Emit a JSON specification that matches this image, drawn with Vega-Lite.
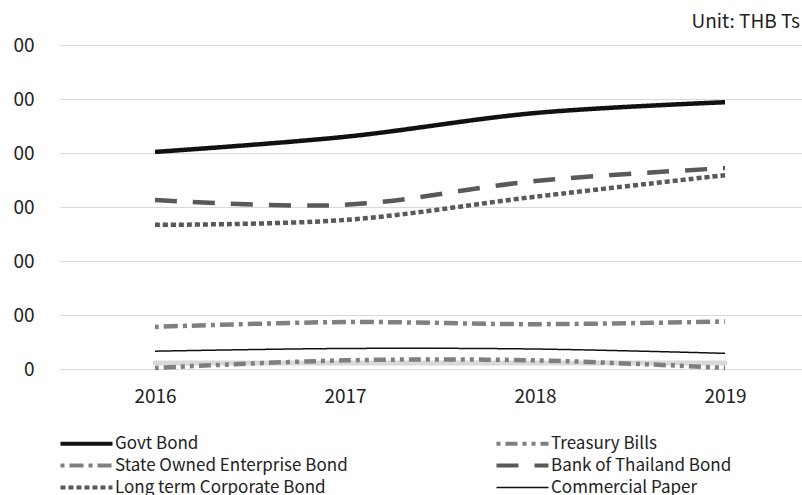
{
  "$schema": "https://vega.github.io/schema/vega-lite/v6.json",
  "width": 742,
  "height": 324,
  "autosize": {"type": "none"},
  "padding": {"left": 60, "top": 45, "right": 0, "bottom": 126},
  "background": "white",
  "config": {
    "view": {"stroke": null},
    "font": "Noto Sans CJK KR"
  },
  "title": {
    "text": "Unit: THB Ts",
    "anchor": "end",
    "frame": "group",
    "orient": "top",
    "offset": 4,
    "dx": -2,
    "fontSize": 19,
    "fontWeight": "normal",
    "color": "#222222",
    "font": "Noto Sans CJK KR"
  },
  "datasets": {
    "main": [
      {"year": 2016, "series": "Govt Bond", "value": 402},
      {"year": 2017, "series": "Govt Bond", "value": 430},
      {"year": 2018, "series": "Govt Bond", "value": 474},
      {"year": 2019, "series": "Govt Bond", "value": 494},
      {"year": 2016, "series": "Treasury Bills", "value": 2},
      {"year": 2017, "series": "Treasury Bills", "value": 16},
      {"year": 2018, "series": "Treasury Bills", "value": 16},
      {"year": 2019, "series": "Treasury Bills", "value": 2},
      {"year": 2016, "series": "State Owned Enterprise Bond", "value": 78},
      {"year": 2017, "series": "State Owned Enterprise Bond", "value": 87},
      {"year": 2018, "series": "State Owned Enterprise Bond", "value": 83},
      {"year": 2019, "series": "State Owned Enterprise Bond", "value": 88},
      {"year": 2016, "series": "Bank of Thailand Bond", "value": 313},
      {"year": 2017, "series": "Bank of Thailand Bond", "value": 304},
      {"year": 2018, "series": "Bank of Thailand Bond", "value": 348},
      {"year": 2019, "series": "Bank of Thailand Bond", "value": 372},
      {"year": 2016, "series": "Long term Corporate Bond", "value": 267},
      {"year": 2017, "series": "Long term Corporate Bond", "value": 276},
      {"year": 2018, "series": "Long term Corporate Bond", "value": 319},
      {"year": 2019, "series": "Long term Corporate Bond", "value": 359},
      {"year": 2016, "series": "Commercial Paper", "value": 33},
      {"year": 2017, "series": "Commercial Paper", "value": 38},
      {"year": 2018, "series": "Commercial Paper", "value": 37},
      {"year": 2019, "series": "Commercial Paper", "value": 29}
    ],
    "other": [
      {"year": 2016, "series": "Other", "value": 11},
      {"year": 2017, "series": "Other", "value": 11},
      {"year": 2018, "series": "Other", "value": 11},
      {"year": 2019, "series": "Other", "value": 11}
    ]
  },
  "encoding": {
    "x": {
      "field": "year",
      "type": "quantitative",
      "scale": {"domain": [2015.5, 2019.405], "nice": false, "zero": false},
      "axis": {
        "values": [2016, 2017, 2018, 2019],
        "format": "d",
        "grid": false,
        "domain": false,
        "ticks": false,
        "labelPadding": 18,
        "labelFontSize": 19,
        "labelColor": "#222222",
        "labelFont": "Noto Sans CJK KR",
        "title": null
      }
    },
    "y": {
      "field": "value",
      "type": "quantitative",
      "scale": {"domain": [0, 600], "nice": false},
      "axis": {
        "values": [0, 100, 200, 300, 400, 500, 600],
        "labelExpr": "datum.value == 0 ? '0' : '00'",
        "grid": true,
        "gridColor": "#d9d9d9",
        "gridWidth": 1,
        "domain": false,
        "ticks": false,
        "labelPadding": 26,
        "labelFontSize": 19,
        "labelColor": "#222222",
        "labelFont": "Noto Sans CJK KR",
        "title": null
      }
    }
  },
  "layer": [
    {
      "data": {"name": "other"},
      "mark": {"type": "line", "interpolate": "catmull-rom", "color": "#d9d9d9", "strokeWidth": 5, "strokeCap": "round"},
      "encoding": {}
    },
    {
      "data": {"name": "main"},
      "transform": [{"filter": "datum.series !== 'Commercial Paper'"}],
      "mark": {"type": "line", "interpolate": "catmull-rom", "strokeCap": "butt", "strokeWidth": 4.5},
      "encoding": {
        "color": {
          "field": "series",
          "type": "nominal",
          "scale": {
            "domain": ["Govt Bond", "State Owned Enterprise Bond", "Long term Corporate Bond", "Treasury Bills", "Bank of Thailand Bond", "Commercial Paper"],
            "range": ["#111111", "#808080", "#595959", "#7f7f7f", "#595959", "#111111"]
          },
          "legend": {
            "orient": "none",
            "legendX": 18,
            "legendY": 390,
            "columns": 2,
            "columnPadding": 140,
            "rowPadding": 4,
            "title": null,
            "symbolType": "M-2.6,0H2.6",
            "symbolSize": 400,
            "labelFontSize": 17,
            "labelLimit": 400,
            "labelColor": "#222222",
            "labelFont": "Noto Sans CJK KR",
            "labelOffset": 20,
            "encode": {
              "symbols": {
                "update": {
                  "strokeWidth": {"signal": "datum.value === 'Commercial Paper' ? 1.5 : 4"}
                }
              }
            }
          }
        },
        "strokeDash": {
          "field": "series",
          "type": "nominal",
          "scale": {
            "domain": ["Govt Bond", "State Owned Enterprise Bond", "Long term Corporate Bond", "Treasury Bills", "Bank of Thailand Bond", "Commercial Paper"],
            "range": [[1, 0], [4, 5, 14, 5], [5, 3], [4, 5, 12, 5, 4, 5], [22, 16], [1, 0]]
          }
        }
      }
    },
    {
      "data": {"name": "main"},
      "transform": [{"filter": "datum.series === 'Commercial Paper'"}],
      "mark": {"type": "line", "interpolate": "catmull-rom", "strokeCap": "butt", "strokeWidth": 1.5},
      "encoding": {
        "color": {"field": "series", "type": "nominal"},
        "strokeDash": {"field": "series", "type": "nominal"}
      }
    }
  ]
}
